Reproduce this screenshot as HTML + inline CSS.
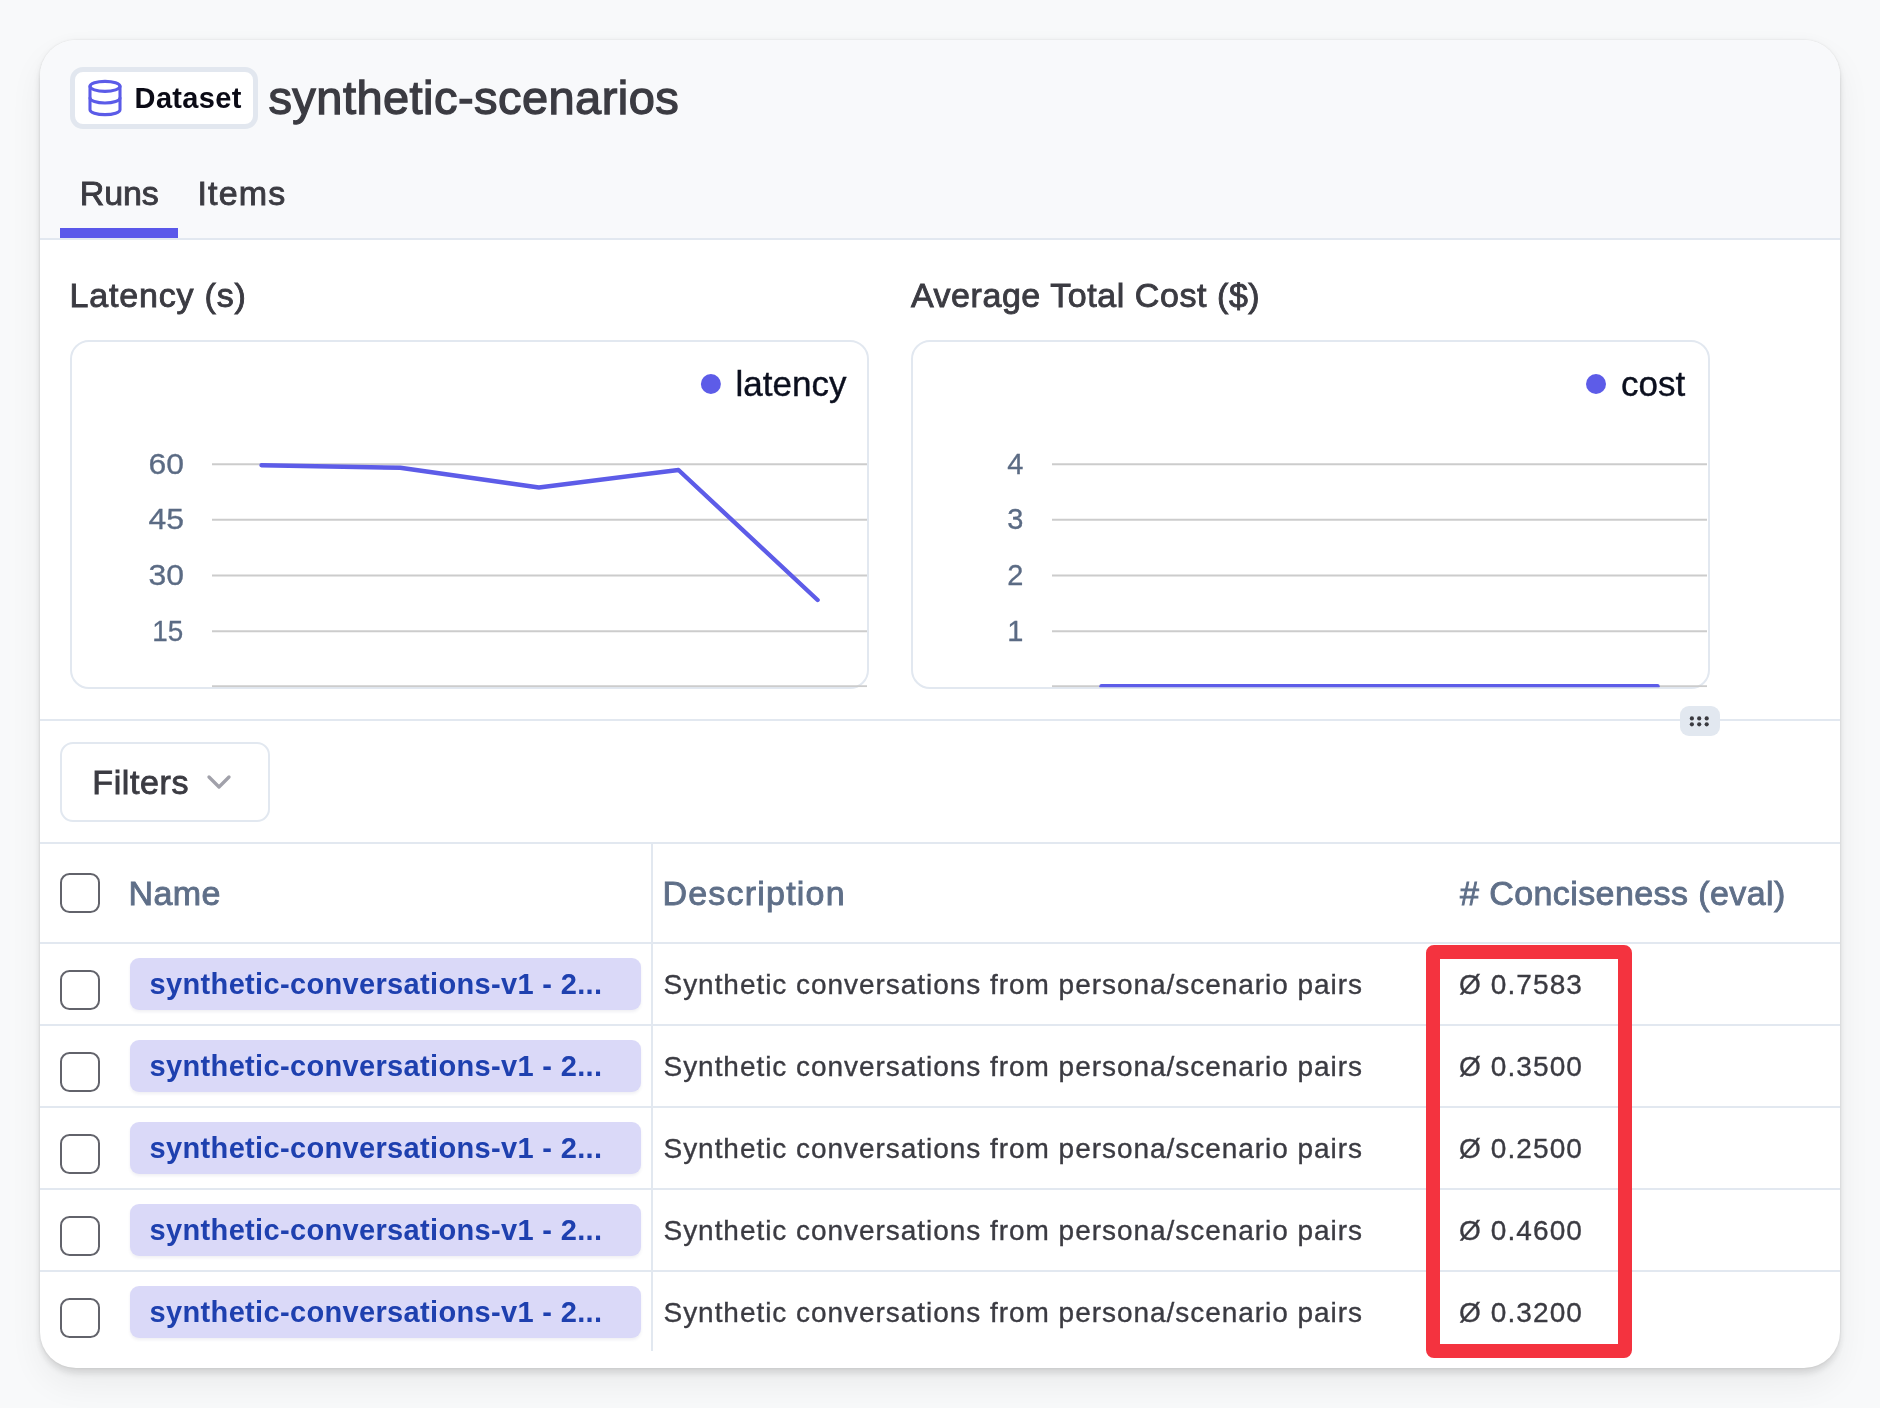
<!DOCTYPE html>
<html><head><meta charset="utf-8"><title>synthetic-scenarios</title>
<style>
*{box-sizing:border-box;margin:0;padding:0}
html,body{width:1880px;height:1408px;overflow:hidden}
body{background:#f8f9fa;font-family:"Liberation Sans",Arial,sans-serif;position:relative}
.abs{position:absolute;white-space:nowrap}
.card{will-change:transform;position:absolute;left:40px;top:40px;width:1800px;height:1328px;border-radius:36px;background:#fff;overflow:hidden;
 box-shadow:0 0 3px rgba(0,0,0,.1),0 1px 14px rgba(0,0,0,.045),0 6px 7px rgba(0,0,0,.09),0 16px 34px rgba(0,0,0,.06)}
.head{position:absolute;left:0;top:0;width:1800px;height:200px;background:#f8f9fb;border-bottom:2px solid #e2e8f0}
.badge{position:absolute;left:30px;top:27px;width:188px;height:62px;border:5px solid #e2e7ef;border-radius:13px;background:#fff}
.t{position:absolute;white-space:nowrap;line-height:1}
.med{-webkit-text-stroke:0.9px currentColor}
.tab-ul{position:absolute;left:20px;top:188px;width:118px;height:10px;background:#5a58ea}
.chartbox{position:absolute;top:300px;width:799px;height:349px;border:2px solid #e2e8f0;border-radius:19px;background:#fff;overflow:hidden}
.divider{position:absolute;left:0;top:679px;width:1800px;height:2px;background:#e2e8f0}
.handle{position:absolute;left:1640px;top:666px;width:40px;height:30px;border-radius:9px;background:#e2e8f0}
.filters{position:absolute;left:20px;top:702px;width:210px;height:80px;border:2px solid #e2e8f0;border-radius:13px;background:#fff}
.hline{position:absolute;left:0;width:1800px;height:2px;background:#e2e8f0}
.vline{position:absolute;left:611px;top:803px;width:2px;height:508px;background:#e2e8f0}
.cb{position:absolute;left:20px;width:40px;height:40px;border:2.2px solid #62636b;border-radius:9.5px;background:#fff}
.chip{position:absolute;left:90px;width:511px;height:52px;border-radius:9px;background:#dad9f8;box-shadow:0 2px 3px rgba(60,60,120,.08)}
.chipt{position:absolute;left:109.6px;font-size:29px;font-weight:700;color:#1e40af;letter-spacing:0.34px}
.desc{position:absolute;left:623.5px;font-size:28px;color:#3b3b42;letter-spacing:0.96px;-webkit-text-stroke:0.35px #3b3b42}
.val{position:absolute;left:1419px;font-size:28px;color:#3b3b42;letter-spacing:1.1px;-webkit-text-stroke:0.35px #3b3b42}
.th{position:absolute;top:836px;font-size:34px;color:#5f6f88}
.red{position:absolute;left:1386px;top:905px;width:206px;height:413px;border:14px solid #f4333f;border-radius:8px}
</style></head>
<body>
<div class="card">
  <div class="head">
    <div class="badge">
      <svg class="abs" style="left:9.9px;top:6px" width="40" height="40" viewBox="0 0 24 24" fill="none" stroke="#5b5be8" stroke-width="1.85" stroke-linecap="round" stroke-linejoin="round"><ellipse cx="12" cy="5" rx="9" ry="3"/><path d="M3 5V19A9 3 0 0 0 21 19V5"/><path d="M3 12A9 3 0 0 0 21 12"/></svg>
      <div class="t" style="left:59.6px;top:12px;font-size:29px;font-weight:700;color:#0b0b16;letter-spacing:0.35px">Dataset</div>
    </div>
    <div class="t" style="left:228.4px;top:34.4px;font-size:47px;color:#3b3b42;-webkit-text-stroke:1.3px #3b3b42;letter-spacing:0.45px">synthetic-scenarios</div>
    <div class="t med" style="left:39.8px;top:135.8px;font-size:34px;color:#3b3b42;letter-spacing:-0.1px">Runs</div>
    <div class="t med" style="left:157.4px;top:135.8px;font-size:34px;color:#3b3b42;letter-spacing:1.2px">Items</div>
    <div class="tab-ul"></div>
  </div>

  <div class="t med" style="left:29.6px;top:238px;font-size:34px;color:#3b3b42;letter-spacing:0.8px">Latency (s)</div>
  <div class="t med" style="left:870.9px;top:238px;font-size:34px;color:#3b3b42;letter-spacing:0.56px">Average Total Cost ($)</div>

  <div class="chartbox" style="left:30.3px"></div>
  <div class="chartbox" style="left:870.9px"></div>

  <div class="divider"></div>
  <div class="handle">
    <svg class="abs" style="left:0;top:0" width="40" height="30" viewBox="0 0 40 30" fill="#3a3a40"><circle cx="11.9" cy="12.4" r="2.1"/><circle cx="19.2" cy="12.4" r="2.1"/><circle cx="26.7" cy="12.4" r="2.1"/><circle cx="11.9" cy="18.3" r="2.1"/><circle cx="19.2" cy="18.3" r="2.1"/><circle cx="26.7" cy="18.3" r="2.1"/></svg>
  </div>

  <div class="filters"></div>
  <div class="t med" style="left:52.3px;top:725.2px;font-size:34px;color:#3b3b42;letter-spacing:0.6px">Filters</div>
  <svg class="abs" style="left:158.8px;top:721.5px" width="40" height="40" viewBox="0 0 24 24" fill="none" stroke="#a1a1aa" stroke-width="2" stroke-linecap="round" stroke-linejoin="round"><path d="m6 9 6 6 6-6"/></svg>

  <div class="hline" style="top:802px"></div>
  <div class="hline" style="top:901.5px"></div>
  <div class="hline" style="top:983.5px"></div>
  <div class="hline" style="top:1065.5px"></div>
  <div class="hline" style="top:1147.5px"></div>
  <div class="hline" style="top:1229.5px"></div>
  <div class="vline"></div>

  <div class="cb" style="top:833.4px"></div>
  <div class="t th med" style="left:88.6px;letter-spacing:0.4px">Name</div>
  <div class="t th med" style="left:622.5px;letter-spacing:1.2px">Description</div>
  <div class="t th med" style="left:1420px;letter-spacing:0.41px"># Conciseness (eval)</div>

  <div class="cb" style="top:929.7px"></div>
  <div class="chip" style="top:918.3px"></div>
  <div class="t chipt" style="top:929.7px">synthetic-conversations-v1 - 2...</div>
  <div class="t desc" style="top:930.5px">Synthetic conversations from persona/scenario pairs</div>
  <div class="t val" style="top:930.8px">Ø 0.7583</div>

  <div class="cb" style="top:1011.7px"></div>
  <div class="chip" style="top:1000.3px"></div>
  <div class="t chipt" style="top:1011.7px">synthetic-conversations-v1 - 2...</div>
  <div class="t desc" style="top:1012.5px">Synthetic conversations from persona/scenario pairs</div>
  <div class="t val" style="top:1012.8px">Ø 0.3500</div>

  <div class="cb" style="top:1093.7px"></div>
  <div class="chip" style="top:1082.3px"></div>
  <div class="t chipt" style="top:1093.7px">synthetic-conversations-v1 - 2...</div>
  <div class="t desc" style="top:1094.5px">Synthetic conversations from persona/scenario pairs</div>
  <div class="t val" style="top:1094.8px">Ø 0.2500</div>

  <div class="cb" style="top:1175.7px"></div>
  <div class="chip" style="top:1164.3px"></div>
  <div class="t chipt" style="top:1175.7px">synthetic-conversations-v1 - 2...</div>
  <div class="t desc" style="top:1176.5px">Synthetic conversations from persona/scenario pairs</div>
  <div class="t val" style="top:1176.8px">Ø 0.4600</div>

  <div class="cb" style="top:1257.7px"></div>
  <div class="chip" style="top:1246.3px"></div>
  <div class="t chipt" style="top:1257.7px">synthetic-conversations-v1 - 2...</div>
  <div class="t desc" style="top:1258.5px">Synthetic conversations from persona/scenario pairs</div>
  <div class="t val" style="top:1258.8px">Ø 0.3200</div>

  <div class="red"></div>
</div>

<svg class="abs" style="left:0;top:0;will-change:transform" width="1880" height="1408" viewBox="0 0 1880 1408" font-family="Liberation Sans, Arial, sans-serif">
  <defs>
    <clipPath id="c1"><rect x="72" y="342" width="796" height="345.2"/></clipPath>
    <clipPath id="c2"><rect x="912.7" y="342" width="796" height="345.2"/></clipPath>
  </defs>
  <g clip-path="url(#c1)">
    <g stroke="#cccccc" stroke-width="2">
      <line x1="212" y1="464.3" x2="867" y2="464.3"/>
      <line x1="212" y1="519.7" x2="867" y2="519.7"/>
      <line x1="212" y1="575.6" x2="867" y2="575.6"/>
      <line x1="212" y1="631.3" x2="867" y2="631.3"/>
      <line x1="212" y1="686.3" x2="867" y2="686.3"/>
    </g>
    <g font-size="29" fill="#5b6b84" stroke="#5b6b84" stroke-width="0.3" text-anchor="end">
      <text transform="translate(183.9 473.7) scale(1.1 1)">60</text>
      <text transform="translate(183.9 529.1) scale(1.1 1)">45</text>
      <text transform="translate(183.9 585) scale(1.1 1)">30</text>
      <text transform="translate(183.2 640.7) scale(0.96 1)">15</text>
    </g>
    <polyline points="261.5,465.2 400.2,467.8 538.9,487.5 678.5,470 817.6,600" fill="none" stroke="#5d5ce8" stroke-width="4.4" stroke-linejoin="round" stroke-linecap="round"/>
    <circle cx="710.9" cy="384" r="10" fill="#5d5ce8"/>
    <text x="735.5" y="396.2" font-size="35" fill="#0b0f1e" stroke="#0b0f1e" stroke-width="0.4">latency</text>
  </g>
  <g clip-path="url(#c2)">
    <g stroke="#cccccc" stroke-width="2">
      <line x1="1052" y1="464.3" x2="1707" y2="464.3"/>
      <line x1="1052" y1="519.7" x2="1707" y2="519.7"/>
      <line x1="1052" y1="575.6" x2="1707" y2="575.6"/>
      <line x1="1052" y1="631.3" x2="1707" y2="631.3"/>
      <line x1="1052" y1="686.3" x2="1707" y2="686.3"/>
    </g>
    <g font-size="29" fill="#5b6b84" stroke="#5b6b84" stroke-width="0.3" text-anchor="end">
      <text x="1023.4" y="473.7">4</text>
      <text x="1023.4" y="529.1">3</text>
      <text x="1023.4" y="585">2</text>
      <text x="1023.4" y="640.7">1</text>
    </g>
    <polyline points="1101.5,686.3 1657.5,686.3" fill="none" stroke="#5d5ce8" stroke-width="4.4" stroke-linejoin="round" stroke-linecap="round"/>
    <circle cx="1596" cy="384" r="10" fill="#5d5ce8"/>
    <text x="1621" y="396.2" font-size="35" fill="#0b0f1e" stroke="#0b0f1e" stroke-width="0.4">cost</text>
  </g>
</svg>
</body></html>
